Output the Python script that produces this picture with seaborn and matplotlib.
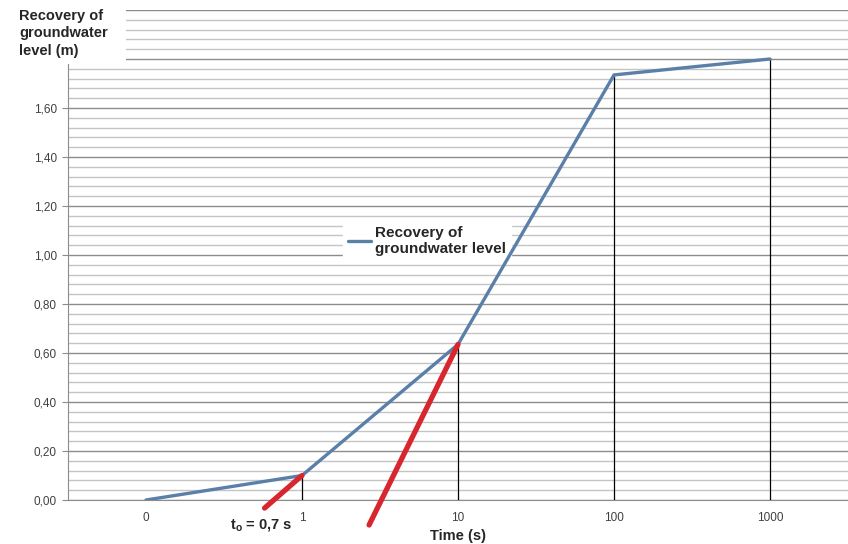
import numpy as np
import pandas as pd
import matplotlib
matplotlib.use("Agg")
import matplotlib.pyplot as plt
from matplotlib.patches import Rectangle
from matplotlib.ticker import MultipleLocator, FuncFormatter
import seaborn as sns

time_labels = ["0", "1", "10", "100", "1000"]
recovery = [0.0, 0.10, 0.635, 1.735, 1.80]

# tangent lines (red): start at a series point, end below the axis
tangent_from = [1, 2]
tangent_end_x = [0.76, 1.43]
tangent_end_y = [-0.033, -0.102]

sns.set_style("white")
plt.rcParams["font.family"] = ["Liberation Sans", "DejaVu Sans"]

df = pd.DataFrame({"pos": np.arange(len(time_labels)), "level": recovery})

fig = plt.figure(figsize=(8.48, 5.44), dpi=100)
ax = fig.add_axes([68 / 848, 1 - 500 / 544, 1 - 68 / 848, 490 / 544])

sns.lineplot(data=df, x="pos", y="level", ax=ax, color="#5a7fa8", linewidth=2.4,
             label="Recovery of\ngroundwater level", zorder=4)

# drop lines from each point to the axis
ax.vlines(df["pos"][1:], 0, df["level"][1:], color="black", linewidth=0.9, zorder=3)

for i, ex, ey in zip(tangent_from, tangent_end_x, tangent_end_y):
    ax.plot([df["pos"][i], ex], [df["level"][i], ey], color="#d8262f", linewidth=3.8,
            solid_capstyle="round", clip_on=False, zorder=5)

ax.set_xlim(-0.5, 4.5)
ax.set_ylim(0, 2.0)
ax.set_xticks(df["pos"])
ax.set_xticklabels(time_labels)
ax.yaxis.set_major_locator(MultipleLocator(0.2))
ax.yaxis.set_minor_locator(MultipleLocator(0.04))
ax.yaxis.set_major_formatter(
    FuncFormatter(lambda v, p: f"{v:.2f}".replace(".", ",") if v < 1.7 else ""))
ax.grid(axis="y", which="major", color="#8c8c8c", linewidth=1.0)
ax.grid(axis="y", which="minor", color="#c4c4c4", linewidth=1.0)
ax.grid(axis="x", visible=False)
ax.set_axisbelow(True)

ax.tick_params(axis="y", which="major", left=True, length=4, color="#8c8c8c",
               labelsize=8.5, labelcolor="#404040", pad=4)
ax.tick_params(axis="y", which="minor", left=False)
ax.tick_params(axis="x", bottom=False, labelsize=8.5, labelcolor="#404040", pad=5)

for s in ["top", "right"]:
    ax.spines[s].set_visible(False)
ax.spines["left"].set_color("#8c8c8c")
ax.spines["bottom"].set_color("#8c8c8c")

ax.set_xlabel("Time (s)", fontsize=10.5, fontweight="bold", labelpad=4)
ax.set_ylabel("")

leg = ax.legend(loc="upper left", bbox_to_anchor=(0.343, 0.585), frameon=True,
                fontsize=11, handlelength=1.5, handletextpad=0.3, borderpad=0.3,
                labelspacing=0.2)
leg.get_frame().set_edgecolor("white")
leg.get_frame().set_facecolor("white")
leg.get_frame().set_alpha(1)
leg.set_zorder(3.5)
for t in leg.get_texts():
    t.set_fontweight("bold")

# white box behind the axis title, hiding the top-left of the grid
fig.patches.append(Rectangle((0, 1 - 64 / 544), 126 / 848, 64 / 544, transform=fig.transFigure,
                             facecolor="white", edgecolor="none", zorder=10))
fig.text(19 / 848, 1 - 9 / 544, "Recovery of\ngroundwater\nlevel (m)", ha="left", va="top",
         fontsize=10.5, fontweight="bold", linespacing=1.3, zorder=11)

fig.text(230 / 848, 1 - 526 / 544, r"t$_\mathregular{o}$ = 0,7 s", ha="left", va="center",
         fontsize=10.5, fontweight="bold")

fig.savefig("out.png", dpi=100)
